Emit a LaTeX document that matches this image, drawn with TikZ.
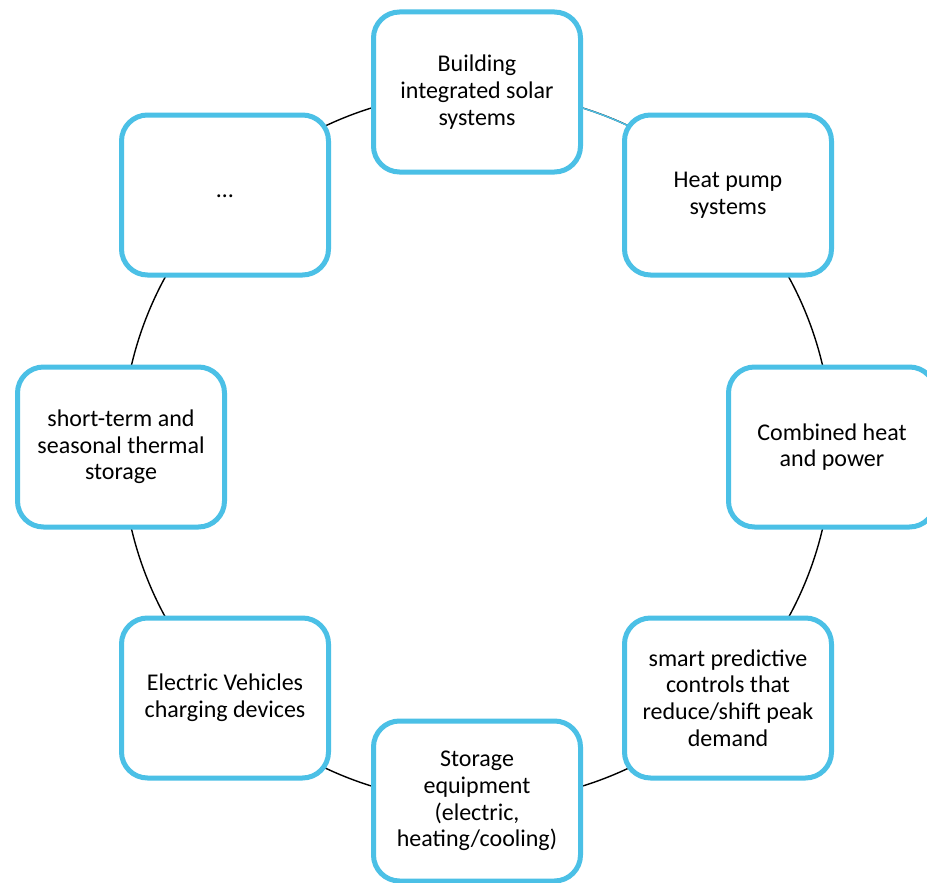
\documentclass[tikz,border=0pt]{standalone}
\usepackage{fontspec}
\setmainfont{Carlito}
\definecolor{boxblue}{RGB}{75,192,230}
\begin{document}
\begin{tikzpicture}[x=1pt,y=-1pt,
  card/.style={draw=boxblue, line width=5pt, fill=white, rounded corners=26pt,
    minimum width=207pt, minimum height=160pt, align=center, inner sep=0pt,
    font=\fontsize{24}{26.7}\selectfont, text=black},
  ring/.style={draw=black, line width=1.4pt}]
\useasboundingbox (0,0) rectangle (927,883);
\fill[white] (0,0) rectangle (927,883);
\coordinate (c) at (477,447);
\draw[ring] (c) circle (355);
\draw[boxblue, line width=1.4pt] (c) ++(-75:355) arc (-75:-64:355);
\node[card] (b1) at (477,92) {Building\\integrated solar\\systems};
\node[card] (b2) at (728,195) {Heat pump\\systems};
\node[card] (b3) at (832,447) {Combined heat\\and power};
\node[card] (b4) at (728,698) {smart predictive\\controls that\\reduce/shift peak\\demand};
\node[card] (b5) at (477,801) {Storage\\equipment\\(electric,\\heating/cooling)};
\node[card] (b6) at (225,698) {Electric Vehicles\\charging devices};
\node[card] (b7) at (121,447) {short-term and\\seasonal thermal\\storage};
\node[card] (b8) at (225,195) {\raisebox{-6pt}{…}};
\end{tikzpicture}
\end{document}
